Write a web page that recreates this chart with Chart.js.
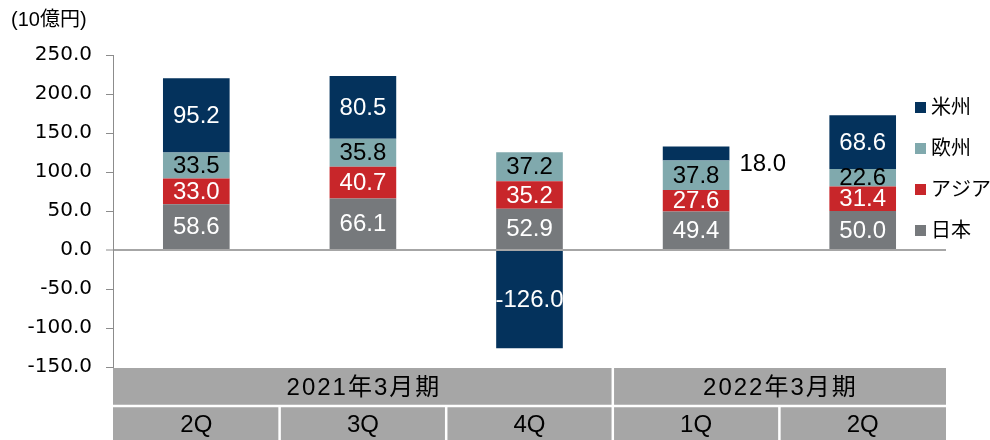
<!DOCTYPE html>
<html>
<head>
<meta charset="utf-8">
<script src="https://cdn.jsdelivr.net/npm/chart.js@4"></script>
<style>
html, body { margin: 0; padding: 0; background: #fff; }
</style>
</head>
<body>
<canvas id="myChart" width="990" height="440"></canvas>
<script>
// データ (10億円)
const quarters = ['2Q', '3Q', '4Q', '1Q', '2Q'];
const years = ['2021年3月期', '2022年3月期'];
const yearSpans = [3, 2];
const regions = ['日本', 'アジア', '欧州', '米州'];
const japan = [58.6, 66.1, 52.9, 49.4, 50.0];
const asia = [33.0, 40.7, 35.2, 27.6, 31.4];
const europe = [33.5, 35.8, 37.2, 37.8, 22.6];
const americas = [95.2, 80.5, -126.0, 18.0, 68.6];
const unitLabel = '(10億円)';

const colors = ['#76797c', '#c8262a', '#80a9ad', '#04325c'];
const labelColors = ['#fff', '#fff', '#000', '#fff'];
const fontJP = "'Liberation Sans', Arial, 'Noto Sans CJK JP', sans-serif";

// ラベル・表・凡例を描く
const extras = {
    id: 'extras',
    afterDatasetsDraw(chart) {
        const c = chart.ctx;
        c.save();
        c.font = '24px ' + fontJP;
        c.textBaseline = 'middle';
        chart.data.datasets.forEach((ds, i) => {
            const meta = chart.getDatasetMeta(i);
            meta.data.forEach((bar, j) => {
                const v = ds.data[j];
                const mid = (bar.y + bar.base) / 2;
                const h = Math.abs(bar.base - bar.y);
                const txt = v.toFixed(1);
                if (h < 16) {
                    // 小さすぎるので外に出す
                    c.fillStyle = '#000';
                    c.textAlign = 'left';
                    c.fillText(txt, bar.x + bar.width / 2 + 10, mid + 11);
                } else {
                    c.fillStyle = labelColors[i];
                    c.textAlign = 'center';
                    c.fillText(txt, bar.x, mid + 1);
                }
            });
        });
        c.restore();
    },
    afterDraw(chart) {
        const c = chart.ctx;
        const a = chart.chartArea;
        const catW = (a.right - a.left) / quarters.length;
        c.save();
        // 単位
        c.fillStyle = '#000';
        c.font = '20px ' + fontJP;
        c.textAlign = 'left';
        c.textBaseline = 'middle';
        c.fillText(unitLabel, 11, 20);

        // 下の表
        const top = a.bottom + 1, mid = 406, bottom = 440;
        c.fillStyle = '#a6a6a6';
        c.fillRect(a.left, top, a.right - a.left, bottom - top);
        c.strokeStyle = '#fff';
        c.lineWidth = 2.5;
        c.beginPath();
        c.moveTo(a.left, mid);
        c.lineTo(a.right, mid);
        for (let k = 1; k < quarters.length; k++) {
            const x = a.left + catW * k;
            c.moveTo(x, mid);
            c.lineTo(x, bottom);
        }
        let start = 0;
        yearSpans.forEach((n, k) => {
            if (k > 0) {
                const x = a.left + catW * start;
                c.moveTo(x, top);
                c.lineTo(x, mid);
            }
            start += n;
        });
        c.stroke();

        c.fillStyle = '#000';
        c.font = '24px ' + fontJP;
        c.textAlign = 'center';
        c.letterSpacing = '2px';
        start = 0;
        years.forEach((y, k) => {
            const x = a.left + catW * (start + yearSpans[k] / 2);
            c.fillText(y, x + 1, (top + mid) / 2 + 1);
            start += yearSpans[k];
        });
        c.letterSpacing = '0px';
        quarters.forEach((q, k) => {
            c.fillText(q, a.left + catW * (k + 0.5), (mid + bottom) / 2 + 2);
        });

        // 凡例
        c.font = '20px ' + fontJP;
        c.textAlign = 'left';
        for (let k = 3; k >= 0; k--) {
            const y = 107 + (3 - k) * 41;
            c.fillStyle = colors[k];
            c.fillRect(915, y - 5, 11, 11);
            c.fillStyle = '#000';
            c.fillText(regions[k], 931, y + 1);
        }
        c.restore();
    }
};

const ctx = document.getElementById('myChart');
const chart1 = new Chart(ctx, {
    type: 'bar',
    data: {
        labels: quarters,
        datasets: [japan, asia, europe, americas].map((d, i) => ({
            label: regions[i],
            data: d,
            backgroundColor: colors[i],
            borderWidth: 0,
            categoryPercentage: 1,
            barPercentage: 0.4
        }))
    },
    options: {
        responsive: false,
        animation: false,
        devicePixelRatio: 1,
        layout: { padding: { left: 0, right: 44, top: 55, bottom: 73 } },
        plugins: { legend: { display: false }, tooltip: { enabled: false } },
        scales: {
            x: { stacked: true, display: false },
            y: {
                stacked: true,
                min: -150,
                max: 250,
                afterFit(scale) { scale.width = 113; },
                border: { color: '#8c8c8c', width: 1 },
                grid: {
                    drawOnChartArea: true,
                    color: c => c.tick && c.tick.value === 0 ? '#a6a6a6' : 'rgba(0,0,0,0)',
                    lineWidth: c => c.tick && c.tick.value === 0 ? 2 : 1,
                    tickColor: '#8c8c8c',
                    tickWidth: 1,
                    tickLength: 7
                },
                ticks: {
                    stepSize: 50,
                    padding: 14,
                    color: '#000',
                    font: { family: "'DejaVu Sans'", size: 20 },
                    callback: v => v.toFixed(1)
                }
            }
        }
    },
    plugins: [extras]
});
</script>
</body>
</html>
